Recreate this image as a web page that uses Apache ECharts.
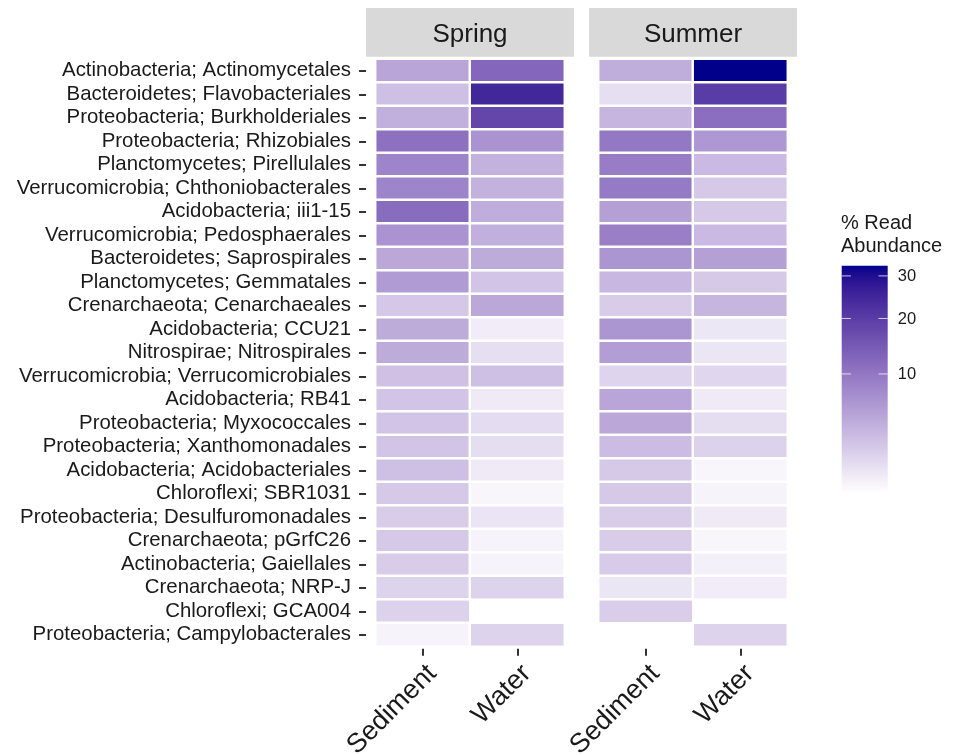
<!DOCTYPE html>
<html>
<head>
<meta charset="utf-8">
<script src="https://cdn.jsdelivr.net/npm/echarts@6/dist/echarts.min.js"></script>
<style>
  html, body { margin: 0; padding: 0; background: #ffffff; }
  #chart { width: 956px; height: 755px; }
</style>
</head>
<body>
<div id="chart"></div>
<script>
// ---- data ---------------------------------------------------------------
const taxa = [
  'Actinobacteria; Actinomycetales',
  'Bacteroidetes; Flavobacteriales',
  'Proteobacteria; Burkholderiales',
  'Proteobacteria; Rhizobiales',
  'Planctomycetes; Pirellulales',
  'Verrucomicrobia; Chthoniobacterales',
  'Acidobacteria; iii1-15',
  'Verrucomicrobia; Pedosphaerales',
  'Bacteroidetes; Saprospirales',
  'Planctomycetes; Gemmatales',
  'Crenarchaeota; Cenarchaeales',
  'Acidobacteria; CCU21',
  'Nitrospirae; Nitrospirales',
  'Verrucomicrobia; Verrucomicrobiales',
  'Acidobacteria; RB41',
  'Proteobacteria; Myxococcales',
  'Proteobacteria; Xanthomonadales',
  'Acidobacteria; Acidobacteriales',
  'Chloroflexi; SBR1031',
  'Proteobacteria; Desulfuromonadales',
  'Crenarchaeota; pGrfC26',
  'Actinobacteria; Gaiellales',
  'Crenarchaeota; NRP-J',
  'Chloroflexi; GCA004',
  'Proteobacteria; Campylobacterales'
];
const habitats = ['Sediment', 'Water'];
const seasons = ['Spring', 'Summer'];

// % read abundance per taxon (null = not detected)
const springSediment = [4.72, 2.67, 3.83, 10.90, 8.24, 8.24, 11.61, 6.50, 4.49, 5.70, 2.17, 4.27, 4.27,
                        2.59, 2.34, 2.34, 2.34, 2.67, 2.02, 1.87, 2.02, 1.87, 1.52, 1.59, 0.32];
const springWater    = [12.36, 24.66, 18.21, 6.50, 3.63, 3.63, 4.05, 3.83, 4.27, 2.34, 4.49, 0.52, 0.98,
                        2.67, 0.56, 1.09, 1.04, 0.56, 0.27, 0.78, 0.32, 0.32, 1.52, null, 1.52];
const summerSediment = [4.05, 0.98, 3.42, 9.85, 9.19, 9.52, 5.20, 8.87, 6.23, 3.23, 1.87, 6.23, 5.45,
                        1.45, 4.72, 4.49, 2.85, 2.02, 2.02, 1.87, 1.87, 1.94, 0.73, 1.80, null];
const summerWater    = [32.7, 20.09, 11.25, 5.96, 3.04, 2.02, 2.02, 3.04, 5.20, 2.02, 3.42, 0.69, 0.73,
                        1.33, 0.56, 1.04, 1.59, 0.27, 0.32, 0.56, 0.27, 0.40, 0.52, null, 1.52];

// colour scale (square-root transformed) and its legend breaks
const abundanceLimits = [0.12, 32.7];
const legendTicks = [10, 20, 30];

// ---- colour helpers: CIELAB interpolation white -> darkblue --------------
const D65 = [0.95047, 1.0, 1.08883];
const toLin = c => { c /= 255; return c <= 0.04045 ? c / 12.92 : Math.pow((c + 0.055) / 1.055, 2.4); };
const toByte = c => {
  c = Math.max(0, Math.min(1, c));
  const v = c <= 0.0031308 ? 12.92 * c : 1.055 * Math.pow(c, 1 / 2.4) - 0.055;
  return Math.round(v * 255);
};
const fLab = t => t > 216 / 24389 ? Math.cbrt(t) : (24389 / 27 * t + 16) / 116;
const fInv = t => t * t * t > 216 / 24389 ? t * t * t : (116 * t - 16) / (24389 / 27);
function hexToLab(hex) {
  const r = toLin(parseInt(hex.slice(1, 3), 16));
  const g = toLin(parseInt(hex.slice(3, 5), 16));
  const b = toLin(parseInt(hex.slice(5, 7), 16));
  const X = 0.4124 * r + 0.3576 * g + 0.1805 * b;
  const Y = 0.2126 * r + 0.7152 * g + 0.0722 * b;
  const Z = 0.0193 * r + 0.1192 * g + 0.9505 * b;
  const fx = fLab(X / D65[0]), fy = fLab(Y / D65[1]), fz = fLab(Z / D65[2]);
  return [116 * fy - 16, 500 * (fx - fy), 200 * (fy - fz)];
}
function labToHex(lab) {
  const fy = (lab[0] + 16) / 116, fx = fy + lab[1] / 500, fz = fy - lab[2] / 200;
  const X = D65[0] * fInv(fx), Y = D65[1] * fInv(fy), Z = D65[2] * fInv(fz);
  const r = 3.2406 * X - 1.5372 * Y - 0.4986 * Z;
  const g = -0.9689 * X + 1.8758 * Y + 0.0415 * Z;
  const b = 0.0557 * X - 0.2040 * Y + 1.0570 * Z;
  return '#' + [r, g, b].map(c => toByte(c).toString(16).padStart(2, '0')).join('');
}
const lowLab = hexToLab('#ffffff');
const highLab = hexToLab('#00008b');
const STOPS = 32;
const palette = [];
for (let i = 0; i < STOPS; i++) {
  const t = i / (STOPS - 1);
  palette.push(labToHex(lowLab.map((v, k) => v + (highLab[k] - v) * t)));
}

// ---- layout -------------------------------------------------------------
const FONT = '"Liberation Sans", Arial, Helvetica, sans-serif';
const TEXT = '#1a1a1a';
const tileArea = { top: 59, height: 587.5, width: 189, lefts: [375.5, 598.5] };
const band = tileArea.width / habitats.length;
const pad = 0.1 * band;                // panel expansion beyond the outer tiles
const rowPad = 0.1 * tileArea.height / taxa.length;
const legendBox = { left: 841.7, top: 265.7, width: 46, height: 227.5 };

function cells(sed, wat) {
  const out = [];
  [sed, wat].forEach((arr, h) => arr.forEach((v, r) => {
    if (v != null) out.push([h, r, v, Math.sqrt(v)]);
  }));
  return out;
}
const seasonCells = [cells(springSediment, springWater), cells(summerSediment, summerWater)];

// ---- chart --------------------------------------------------------------
const chart = echarts.init(document.getElementById('chart'), null, { renderer: 'canvas' });

const grids = tileArea.lefts.map(l => ({
  left: l, top: tileArea.top, width: tileArea.width, height: tileArea.height,
  containLabel: false, outerBoundsMode: 'none'
}));
grids.push({
  left: legendBox.left, top: legendBox.top, width: legendBox.width, height: legendBox.height,
  outerBoundsMode: 'none'
});

const xAxes = seasons.map((s, i) => ({
  type: 'category', gridIndex: i, data: habitats, position: 'bottom', offset: rowPad,
  axisLine: { show: false },
  axisTick: { show: true, alignWithLabel: true, interval: 0, length: 7, lineStyle: { color: '#333333', width: 2 } },
  axisLabel: {
    interval: 0, rotate: 45, fontSize: 27, fontFamily: FONT, color: TEXT,
    margin: 11, align: 'right', verticalAlign: 'top', padding: [0, 0, 0, 0]
  },
  splitLine: { show: false }
}));
xAxes.push({ type: 'value', gridIndex: 2, min: 0, max: 1, show: false });

const yAxes = seasons.map((s, i) => ({
  type: 'category', gridIndex: i, data: taxa, inverse: true, offset: pad,
  axisLine: { show: false },
  axisTick: { show: i === 0, alignWithLabel: true, interval: 0, length: 7, lineStyle: { color: '#333333', width: 2 } },
  axisLabel: { show: i === 0, interval: 0, fontSize: 20.4, fontFamily: FONT, color: TEXT, margin: 15 },
  splitLine: { show: false }
}));
yAxes.push({
  type: 'value', gridIndex: 2, show: false,
  min: Math.sqrt(abundanceLimits[0]), max: Math.sqrt(abundanceLimits[1])
});

const heatSeries = seasons.map((s, i) => ({
  name: s, type: 'heatmap', xAxisIndex: i, yAxisIndex: i,
  data: seasonCells[i],
  itemStyle: { borderColor: '#ffffff', borderWidth: 2.4 },
  emphasis: { disabled: true }
}));

// colour bar drawn on the legend grid's sqrt scale
const colourBar = {
  type: 'custom', xAxisIndex: 2, yAxisIndex: 2, data: [[0, 0]], silent: true,
  renderItem(params, api) {
    const top = api.coord([0, Math.sqrt(abundanceLimits[1])]);
    const bottom = api.coord([1, Math.sqrt(abundanceLimits[0])]);
    const x0 = top[0], x1 = bottom[0], w = x1 - x0;
    const children = [{
      type: 'rect',
      shape: { x: x0, y: top[1], width: w, height: bottom[1] - top[1] },
      style: {
        fill: {
          type: 'linear', x: 0, y: 1, x2: 0, y2: 0,
          colorStops: palette.map((c, k) => ({ offset: k / (palette.length - 1), color: c }))
        }
      }
    }];
    legendTicks.forEach(v => {
      const y = api.coord([0, Math.sqrt(v)])[1];
      children.push({ type: 'line', shape: { x1: x0, y1: y, x2: x0 + w / 5, y2: y },
        style: { stroke: 'rgba(255,255,255,0.75)', lineWidth: 1 } });
      children.push({ type: 'line', shape: { x1: x1 - w / 5, y1: y, x2: x1, y2: y },
        style: { stroke: 'rgba(255,255,255,0.75)', lineWidth: 1 } });
      children.push({ type: 'text', style: {
        text: String(v), x: x1 + 10, y: y + 1, fill: TEXT,
        font: '16.5px ' + FONT, verticalAlign: 'middle', align: 'left'
      } });
    });
    return { type: 'group', children };
  }
};

// facet strips and legend title
const graphics = [];
seasons.forEach((s, i) => {
  const left = tileArea.lefts[i] - pad;
  const width = tileArea.width + 2 * pad;
  graphics.push({
    type: 'rect', left: left, top: 8, silent: true,
    shape: { width: width, height: tileArea.top - rowPad - 8 },
    style: { fill: '#d9d9d9' }
  });
  graphics.push({
    type: 'text', silent: true,
    style: {
      text: s, x: left + width / 2, y: 8 + (tileArea.top - rowPad - 8) / 2 + 3,
      align: 'center', verticalAlign: 'middle', font: '26px ' + FONT, fill: TEXT
    }
  });
});
graphics.push({
  type: 'text', silent: true,
  style: {
    text: '% Read\nAbundance', x: 841, y: 212, align: 'left', verticalAlign: 'top',
    font: '20px ' + FONT, lineHeight: 23, fill: TEXT
  }
});

chart.setOption({
  animation: false,
  backgroundColor: '#ffffff',
  grid: grids,
  xAxis: xAxes,
  yAxis: yAxes,
  visualMap: {
    type: 'continuous', show: false, seriesIndex: [0, 1], dimension: 3,
    min: Math.sqrt(abundanceLimits[0]), max: Math.sqrt(abundanceLimits[1]),
    inRange: { color: palette }
  },
  series: [...heatSeries, colourBar],
  graphic: graphics
});
</script>
</body>
</html>
